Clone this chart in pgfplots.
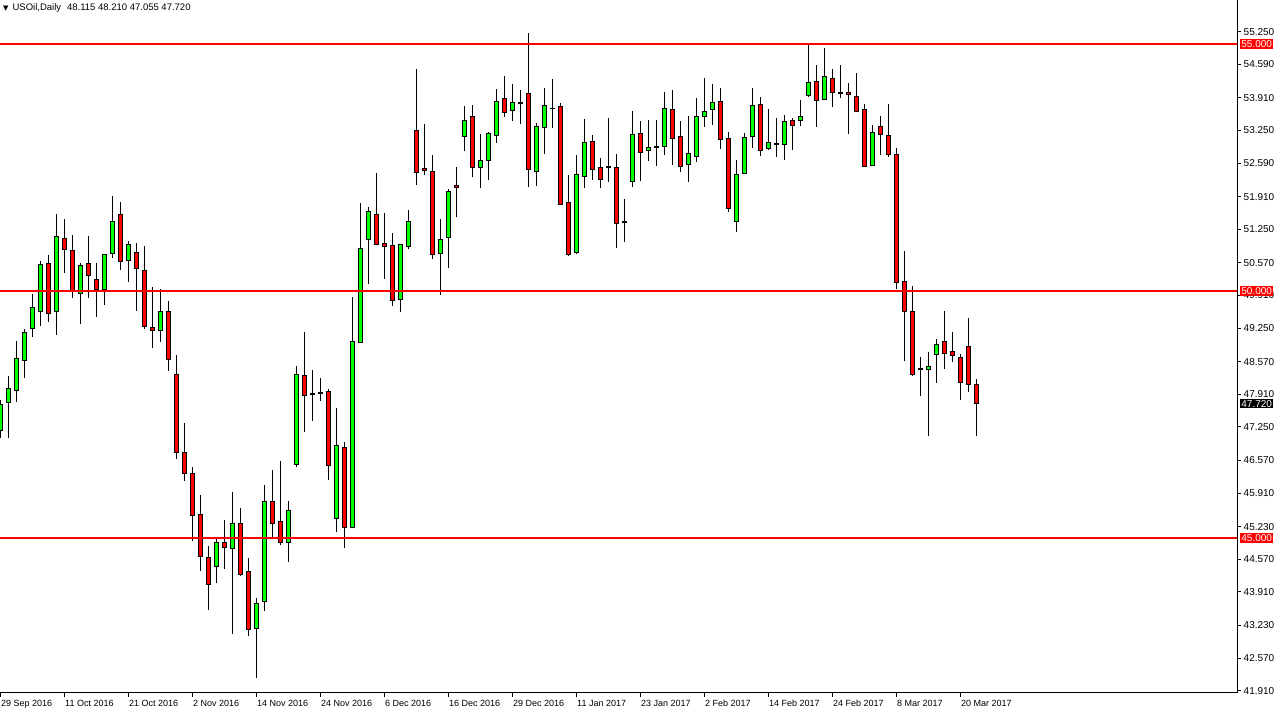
\documentclass[border=0pt]{standalone}
\usepackage{pgfplots}
\pgfplotsset{compat=1.18}
\usepackage{pgfplotstable}
\usepackage{fontspec}
\setmainfont{Liberation Sans}
\newfontfamily\dejavu{DejaVu Sans}
\definecolor{bull}{RGB}{0,255,0}
\definecolor{bear}{RGB}{255,0,0}

\pgfplotstableread{
i o h l c
0 47.186 47.794 47.024 47.706
1 47.747 48.279 47.018 48.022
2 47.990 48.988 47.759 48.638
3 48.597 49.231 48.245 49.164
4 49.245 49.939 49.075 49.670
5 49.581 50.607 49.298 50.540
6 50.561 50.729 49.379 49.549
7 49.581 51.565 49.115 51.107
8 51.067 51.457 50.370 50.836
9 50.810 51.134 49.864 49.994
10 49.953 50.561 49.338 50.520
11 50.561 51.113 49.864 50.310
12 50.223 50.567 49.480 50.034
13 50.034 50.743 49.722 50.743
14 50.749 51.923 50.662 51.411
15 51.552 51.802 50.431 50.601
16 50.621 51.012 50.188 50.945
17 50.783 50.971 49.601 50.459
18 50.419 50.911 49.237 49.285
19 49.265 50.081 48.852 49.204
20 49.204 50.040 48.974 49.589
21 49.589 49.797 48.387 48.617
22 48.314 48.698 46.605 46.735
23 46.735 47.328 46.160 46.310
24 46.310 46.437 44.945 45.451
25 45.480 45.870 44.338 44.629
26 44.609 44.844 43.549 44.063
27 44.427 44.973 44.083 44.913
28 44.913 45.364 44.378 44.812
29 44.791 45.931 43.063 45.297
30 45.297 45.607 44.237 44.265
31 44.326 44.595 43.022 43.152
32 43.172 43.779 42.172 43.678
33 43.711 46.073 43.528 45.743
34 45.743 46.376 44.994 45.297
35 45.338 46.559 44.852 44.913
36 44.913 45.749 44.520 45.561
37 46.492 48.482 46.443 48.314
38 48.293 49.170 47.146 47.888
39 47.916 48.401 47.374 47.902
40 47.948 48.239 47.779 47.934
41 47.970 48.010 46.180 46.472
42 45.391 47.632 45.128 46.876
43 46.836 46.937 44.804 45.208
44 45.208 49.878 45.208 48.982
45 48.961 51.775 48.961 50.864
46 51.046 51.694 50.148 51.613
47 51.552 52.382 50.925 50.945
48 50.966 51.573 50.249 50.905
49 50.925 51.168 49.702 49.812
50 49.832 50.945 49.581 50.945
51 50.905 51.634 50.844 51.411
52 53.253 54.488 52.152 52.403
53 52.484 53.375 52.342 52.443
54 52.423 52.747 50.654 50.743
55 50.763 51.451 49.925 51.046
56 51.087 52.059 50.472 52.018
57 52.140 52.504 51.492 52.099
58 53.131 53.739 52.828 53.455
59 53.536 53.759 52.302 52.504
60 52.504 53.172 52.079 52.646
61 52.646 53.213 52.241 53.192
62 53.152 54.083 53.002 53.840
63 53.901 54.346 53.528 53.618
64 53.658 54.184 53.447 53.820
65 53.807 54.063 53.387 53.793
66 54.002 55.223 52.112 52.464
67 52.423 53.395 52.132 53.334
68 53.314 54.103 52.779 53.759
69 53.704 54.292 53.306 53.686
70 53.739 53.800 51.755 51.755
71 51.796 52.342 50.715 50.743
72 50.783 52.747 50.743 52.362
73 52.322 53.476 52.091 53.010
74 53.030 53.152 52.253 52.464
75 52.504 52.686 52.091 52.261
76 52.511 53.496 52.213 52.497
77 52.504 52.767 50.876 51.370
78 51.410 51.856 50.998 51.396
79 52.221 53.638 52.112 53.172
80 53.192 53.435 52.221 52.808
81 52.848 53.461 52.637 52.909
82 52.914 53.461 52.536 52.928
83 52.929 54.022 52.759 53.698
84 53.678 54.063 52.557 53.091
85 53.131 53.435 52.403 52.524
86 52.565 53.536 52.213 52.787
87 52.727 53.901 52.617 53.536
88 53.536 54.306 53.326 53.638
89 53.678 54.184 53.366 53.820
90 53.840 54.103 52.880 53.071
91 53.091 53.213 51.605 51.666
92 51.411 52.646 51.200 52.362
93 52.382 53.192 52.382 53.111
94 53.131 54.103 52.888 53.759
95 53.779 53.921 52.739 52.848
96 52.888 53.678 52.848 53.010
97 52.975 53.496 52.719 52.989
98 52.970 53.557 52.658 53.435
99 53.455 53.496 52.860 53.354
100 53.455 53.860 53.334 53.536
101 53.961 54.980 53.921 54.225
102 54.245 54.569 53.326 53.860
103 53.880 54.913 53.860 54.346
104 54.306 54.488 53.731 54.022
105 54.015 54.569 53.913 54.001
106 54.022 54.205 53.172 53.982
107 53.941 54.407 53.618 53.638
108 53.678 53.779 52.524 52.524
109 52.545 53.354 52.524 53.213
110 53.334 53.536 52.747 53.172
111 53.152 53.779 52.707 52.767
112 52.767 52.888 50.034 50.176
113 50.196 50.803 48.577 49.589
114 49.589 50.095 48.285 48.305
115 48.434 48.658 47.880 48.420
116 48.407 48.759 47.071 48.476
117 48.719 49.022 48.144 48.921
118 48.982 49.589 48.427 48.739
119 48.779 49.164 48.569 48.698
120 48.658 48.719 47.800 48.144
121 48.881 49.447 47.962 48.103
122 48.115 48.210 47.055 47.720
}\ohlc

\pgfplotsset{mtframe/.style={at={(0pt,22pt)}, anchor=south west, scale only axis,
  width=1237pt, height=693pt, xmin=0, xmax=154.625, ymin=41.862, ymax=55.891}}

\begin{document}
\begin{tikzpicture}
\path[use as bounding box] (0pt,0pt) rectangle (1280pt,715pt);
% axis 1: frame, ticks, wicks
\begin{axis}[mtframe,
  axis x line*=bottom, axis y line*=right,
  axis line style={black, line width=1pt},
  tick align=outside, major tick length=4pt,
  tick style={black, line width=0.8pt},
  xtick={0,8,16,24,32,40,48,56,64,72,80,88,96,104,112,120},
  xticklabels={29 Sep 2016, 11 Oct 2016, 21 Oct 2016, 2 Nov 2016, 14 Nov 2016, 24 Nov 2016, 6 Dec 2016, 16 Dec 2016, 29 Dec 2016, 11 Jan 2017, 23 Jan 2017, 2 Feb 2017, 14 Feb 2017, 24 Feb 2017, 8 Mar 2017, 20 Mar 2017},
  xticklabel style={anchor=north west, font=\fontsize{9}{11}\selectfont, inner sep=1pt, xshift=0pt, yshift=-2pt},
  ytick={55.25,54.59,53.91,53.25,52.59,51.91,51.25,50.57,49.91,49.25,48.57,47.91,47.25,46.57,45.91,45.23,44.57,43.91,43.23,42.57,41.91},
  yticklabel style={anchor=west, font=\fontsize{10}{12}\selectfont, inner sep=1pt, xshift=1.5pt,
    /pgf/number format/.cd, fixed, fixed zerofill, precision=3, assume math mode=true},
  clip mode=individual]
\addplot[black, line width=1pt, quiver={u=0, v=\thisrow{h}-\thisrow{l}}] table[x=i, y=l] {\ohlc};
\end{axis}
% axis 2: candle bodies
\begin{axis}[mtframe, hide axis, ybar stacked, bar width=4pt]
\addplot[draw=none, fill=none] table[x=i, y expr={min(\thisrow{o},\thisrow{c})}] {\ohlc};
\addplot[fill=bull, draw=black, line width=1pt] table[x=i, y expr={max(\thisrow{c}-\thisrow{o},0)}] {\ohlc};
\addplot[fill=bear, draw=black, line width=1pt] table[x=i, y expr={max(\thisrow{o}-\thisrow{c},0)}] {\ohlc};
\end{axis}
% axis 3: horizontal lines and price boxes
\begin{axis}[mtframe, hide axis, clip mode=individual]
\addplot[bear, line width=1.2pt] coordinates {(0,55) (154.625,55)};
\addplot[bear, line width=1.2pt] coordinates {(0,50) (154.625,50)};
\addplot[bear, line width=1.2pt] coordinates {(0,45) (154.625,45)};
\node[fill=bear, text=white, anchor=west, inner sep=1.2pt, xshift=3pt, font=\fontsize{10}{12}\selectfont] at (axis cs:154.625,55) {55.000};
\node[fill=bear, text=white, anchor=west, inner sep=1.2pt, xshift=3pt, font=\fontsize{10}{12}\selectfont] at (axis cs:154.625,50) {50.000};
\node[fill=bear, text=white, anchor=west, inner sep=1.2pt, xshift=3pt, font=\fontsize{10}{12}\selectfont] at (axis cs:154.625,45) {45.000};
\node[fill=black, text=white, anchor=west, inner sep=1.2pt, xshift=3pt, font=\fontsize{10}{12}\selectfont] at (axis cs:154.625,47.72) {47.720};
\end{axis}
\node[anchor=west, inner sep=0pt, font=\fontsize{9.5}{11}\selectfont] at (3pt,707pt) {{\dejavu\fontsize{7}{8}\selectfont ▼}\hspace{4pt}USOil,Daily\hspace{6pt}48.115 48.210 47.055 47.720};
\end{tikzpicture}
\end{document}
